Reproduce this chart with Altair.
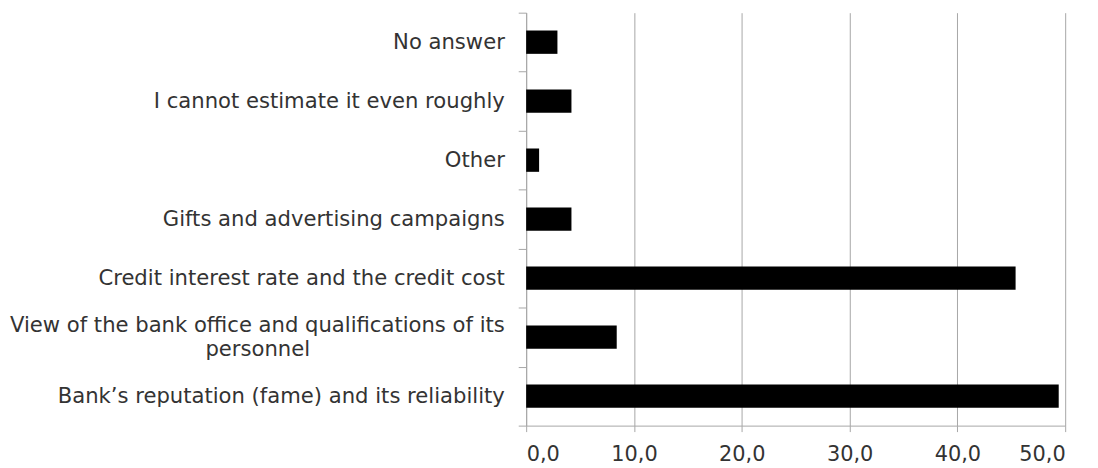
import altair as alt
import pandas as pd

categories = [
    "No answer",
    "I cannot estimate it even roughly",
    "Other",
    "Gifts and advertising campaigns",
    "Credit interest rate and the credit cost",
    "View of the bank office and qualifications of its|personnel" + "\u00a0" * 29 + "\u200b",
    "Bank\u2019s reputation (fame) and its reliability",
]
values = [2.9, 4.2, 1.2, 4.2, 45.4, 8.4, 49.4]
x_ticks = [0, 10, 20, 30, 40, 50]

df = pd.DataFrame({"category": categories, "value": values})

FONT = "DejaVu Sans"
GRAY = "#a6a6a6"
TEXT = "#333333"

chart = (
    alt.Chart(df)
    .mark_bar(color="black", size=23.5)
    .encode(
        x=alt.X(
            "value:Q",
            scale=alt.Scale(domain=[0, 50], nice=False, zero=True),
            axis=alt.Axis(
                values=x_ticks,
                title=None,
                grid=True,
                gridColor=GRAY,
                gridWidth=1,
                domainColor=GRAY,
                tickColor=GRAY,
                tickSize=6,
                labelFont=FONT,
                labelFontSize=21,
                labelColor=TEXT,
                labelPadding=12,
                labelExpr="replace(format(datum.value, '.1f'), '.', ',')",
            ),
        ),
        y=alt.Y(
            "category:N",
            sort=categories,
            scale=alt.Scale(paddingInner=0, paddingOuter=0),
            axis=alt.Axis(
                title=None,
                grid=False,
                domainColor=GRAY,
                tickColor=GRAY,
                tickSize=8,
                tickBand="extent",
                labelFont=FONT,
                labelFontSize=21.3,
                labelColor=TEXT,
                labelPadding=14,
                labelLineHeight=25,
                labelLimit=600,
                labelOffset={
                    "condition": {
                        "test": "isString(datum.value) && indexof(datum.value, '|') >= 0",
                        "value": -12,
                    },
                    "value": 0,
                },
                labelExpr="split(datum.label, '|')",
            ),
        ),
    )
    .properties(
        width=543,
        height=416,
        autosize=alt.AutoSizeParams(type="none"),
        padding={"left": 522, "top": 3, "right": 25, "bottom": 45},
    )
    .configure_view(stroke=None)
)

chart.save("out.html", embed_options={"renderer": "svg", "actions": False})
